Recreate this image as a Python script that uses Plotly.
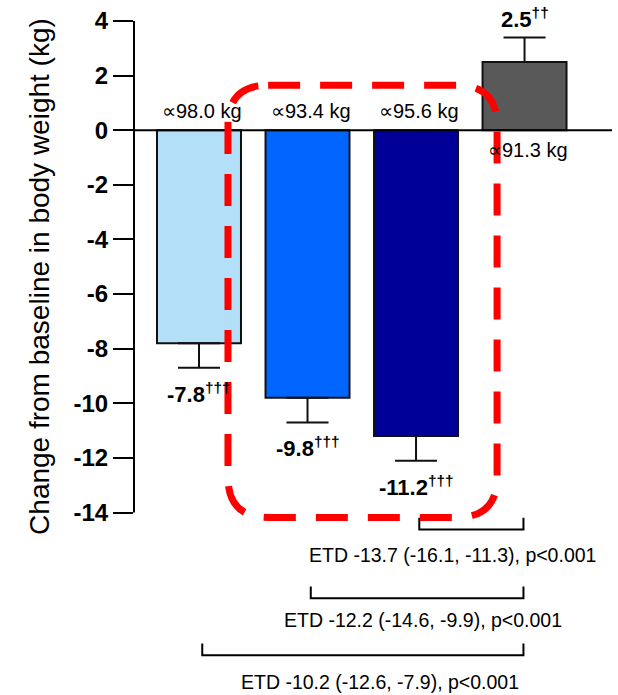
import plotly.graph_objects as go

# ---- data ----
bar_positions = [0, 1, 2, 3]
change_kg = [-7.8, -9.8, -11.2, 2.5]
error_kg = [0.9, 0.9, 0.9, 0.9]
significance = ["†††", "†††", "†††", "††"]
baseline_labels = ["∝98.0 kg", "∝93.4 kg", "∝95.6 kg", "∝91.3 kg"]
bar_colors = ["#B3E0F8", "#0066FF", "#000099", "#595959"]
y_ticks = [4, 2, 0, -2, -4, -6, -8, -10, -12, -14]
etd_labels = [
    "ETD -13.7 (-16.1, -11.3), p<0.001",
    "ETD -12.2 (-14.6, -9.9), p<0.001",
    "ETD -10.2 (-12.6, -7.9), p<0.001",
]
etd_pairs = [(2, 3), (1, 3), (0, 3)]

FONT = "Arial, Liberation Sans, sans-serif"

fig = go.Figure()
fig.add_trace(go.Bar(
    x=bar_positions,
    y=change_kg,
    width=0.774,
    marker=dict(color=bar_colors, line=dict(color="#111111", width=2)),
    error_y=dict(
        type="data",
        symmetric=False,
        array=[e if v > 0 else 0 for v, e in zip(change_kg, error_kg)],
        arrayminus=[e if v < 0 else 0 for v, e in zip(change_kg, error_kg)],
        color="#111111",
        thickness=2,
        width=21,
    ),
    showlegend=False,
    hoverinfo="skip",
))

annotations = []
# value labels
for x, v, e, s in zip(bar_positions, change_kg, error_kg, significance):
    if v < 0:
        y, ys = v - e, -25
    else:
        y, ys = v + e, 19
    annotations.append(dict(
        x=x, y=y, xref="x", yref="y", yshift=ys,
        text=f"{v:.1f}<sup>{s}</sup>", showarrow=False,
        xanchor="center", yanchor="middle",
        font=dict(family=FONT, size=22, color="black", weight="bold"),
    ))
# baseline labels
for x, v, lab in zip(bar_positions, change_kg, baseline_labels):
    annotations.append(dict(
        x=x + 0.03, y=0, xref="x", yref="y", yshift=19 if v < 0 else -20,
        text=lab, showarrow=False, xanchor="center", yanchor="middle",
        font=dict(family=FONT, size=20, color="black"),
    ))
# ETD texts
etd_text_x = [2.34, 2.06, 1.668]
etd_text_y = [-15.57, -17.95, -20.22]
for t, tx, ty in zip(etd_labels, etd_text_x, etd_text_y):
    annotations.append(dict(
        x=tx, y=ty, xref="x", yref="y", text=t, showarrow=False,
        xanchor="center", yanchor="middle",
        font=dict(family=FONT, size=19.5, color="black"),
    ))
# y-axis title
annotations.append(dict(
    x=-0.198, y=0.618, xref="paper", yref="paper",
    text="Change from baseline in body weight (kg)", textangle=-90,
    showarrow=False, xanchor="center", yanchor="middle",
    font=dict(family=FONT, size=28, color="black"),
))

shapes = []
# y axis line
shapes.append(dict(type="line", xref="paper", yref="y", x0=0, x1=0, y0=-14, y1=4,
                   line=dict(color="black", width=2)))
# zero line
shapes.append(dict(type="line", xref="paper", yref="y", x0=0, x1=1, y0=0, y1=0,
                   line=dict(color="black", width=2)))
# brackets
bracket_y = [-14.62, -17.14, -19.23]
bracket_h = 0.43
for (a, b), by in zip(etd_pairs, bracket_y):
    xa = bar_positions[a] + 0.03
    xb = bar_positions[b] - 0.01
    shapes.append(dict(
        type="path", xref="x", yref="y",
        path=f"M {xa},{by + bracket_h} L {xa},{by} L {xb},{by} L {xb},{by + bracket_h}",
        line=dict(color="black", width=2),
    ))
# red dashed rounded box
L, R, T, B = 0.267, 2.747, 1.648, -14.18
rx, ry = 0.37, 1.465
box_path = (
    f"M {L + rx},{T} L {R - rx},{T} Q {R},{T} {R},{T - ry} "
    f"L {R},{B + ry} Q {R},{B} {R - rx},{B} "
    f"L {L + rx},{B} Q {L},{B} {L},{B + ry} "
    f"L {L},{T - ry} Q {L},{T} {L + rx},{T} Z"
)
shapes.append(dict(type="path", xref="x", yref="y", path=box_path,
                   line=dict(color="#FF0000", width=7, dash="32px,20px")))

fig.update_layout(
    width=618, height=695,
    margin=dict(l=134, r=6, t=21, b=5),
    paper_bgcolor="white", plot_bgcolor="white",
    xaxis=dict(range=[-0.599, 3.806], visible=False, fixedrange=True),
    yaxis=dict(
        range=[-20.5, 4], tickvals=y_ticks, ticktext=[str(t) for t in y_ticks],
        ticks="outside", ticklen=20, tickwidth=2, tickcolor="black",
        showgrid=False, zeroline=False, showline=False, automargin=False,
        fixedrange=True,
        tickfont=dict(family=FONT, size=24, color="black", weight="bold"),
    ),
    annotations=annotations,
    shapes=shapes,
    bargap=0,
    hovermode=False,
)

fig.write_html(
    "out.html",
    config={"displayModeBar": False, "staticPlot": True},
    post_script="document.body.style.margin='0';document.body.style.overflow='hidden';",
)
